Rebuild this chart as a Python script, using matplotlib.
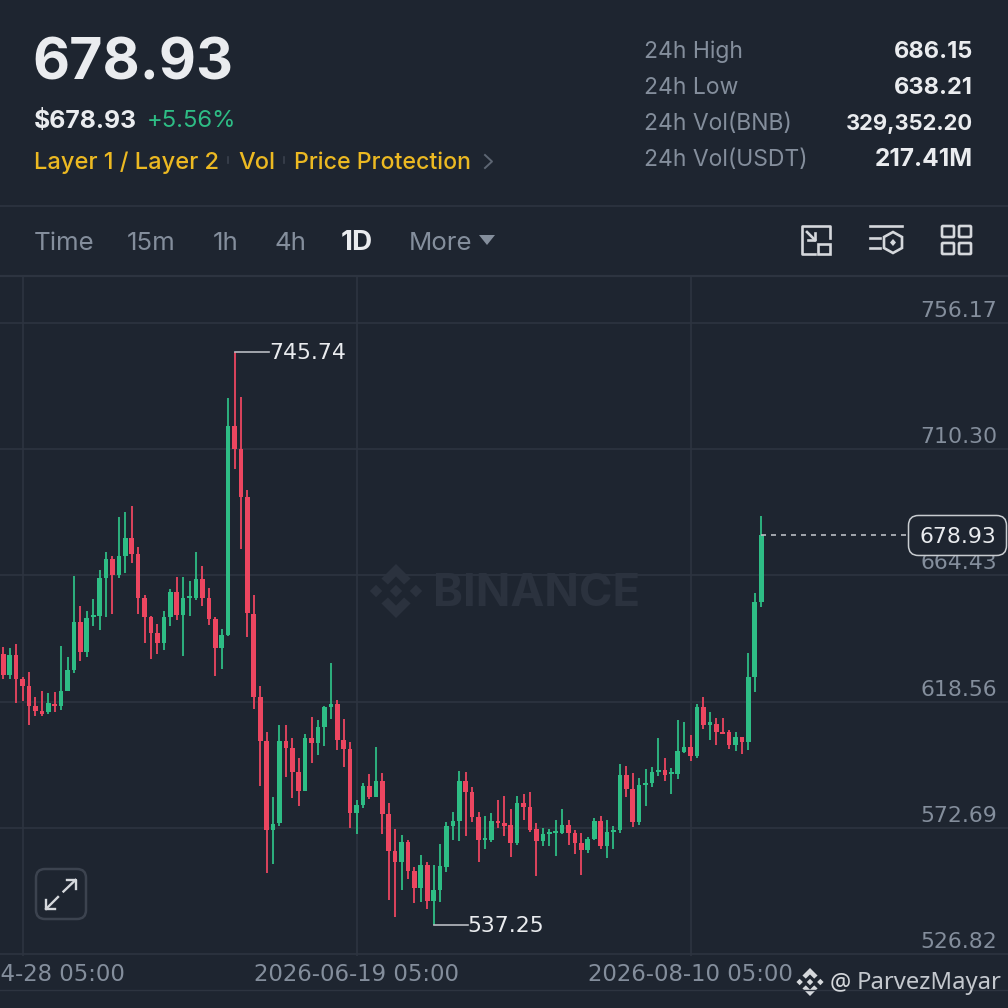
import matplotlib
matplotlib.use('Agg')
import matplotlib.pyplot as plt
from matplotlib.patches import FancyBboxPatch, Polygon, Rectangle

# daily candles (price units)
opens = [635.8, 628.2, 635.5, 626.6, 624.2, 617.1, 615.0, 614.9, 617.7, 616.9,
         622.4, 630.0, 647.4, 636.7, 649.2, 649.7, 663.4, 670.4, 664.7, 671.5,
         678.1, 672.2, 656.1, 649.3, 643.4, 639.7, 649.3, 658.4, 650.0, 656.1,
         656.3, 663.0, 656.2, 648.7, 638.0, 642.8, 718.7, 710.4, 693.0, 650.4,
         620.3, 604.1, 571.9, 574.3, 604.2, 601.6, 593.1, 586.2, 605.4, 603.6,
         609.4, 616.6, 617.6, 604.6, 601.3, 578.2, 581.0, 587.9, 583.9, 589.8,
         577.8, 564.4, 560.2, 567.4, 556.9, 550.7, 559.2, 546.2, 550.1, 558.5,
         573.4, 575.0, 589.7, 585.7, 576.5, 568.4, 568.1, 575.1, 574.3, 573.6,
         567.0, 581.6, 580.2, 572.2, 567.9, 570.4, 570.8, 570.8, 573.6, 570.8,
         567.1, 564.6, 568.6, 575.1, 565.9, 571.0, 571.9, 591.8, 586.8, 574.8,
         588.2, 589.0, 592.9, 593.7, 592.1, 592.2, 600.1, 602.0, 598.9, 616.5,
         610.0, 610.4, 607.6, 607.5, 602.7, 605.6, 603.7, 627.4, 654.6]
highs = [638.3, 637.9, 639.5, 627.4, 629.3, 620.1, 622.5, 621.5, 621.9, 638.6,
         634.6, 664.1, 653.2, 651.4, 655.7, 666.4, 672.8, 671.4, 685.5, 687.3,
         689.8, 674.6, 657.3, 649.5, 646.9, 651.5, 659.6, 664.0, 663.7, 662.3,
         672.8, 667.7, 659.7, 649.2, 644.8, 728.8, 745.74, 729.4, 695.5, 657.2,
         624.2, 607.6, 584.0, 610.2, 610.1, 605.2, 598.2, 606.9, 613.0, 612.0,
         617.0, 632.6, 619.1, 612.1, 604.0, 582.9, 589.1, 592.2, 601.9, 592.5,
         581.8, 572.4, 570.0, 568.2, 558.5, 562.8, 560.1, 559.2, 566.7, 574.8,
         578.4, 593.2, 592.8, 587.6, 578.5, 576.9, 578.0, 582.7, 584.2, 579.5,
         584.3, 584.8, 585.6, 574.4, 572.5, 572.4, 575.6, 579.4, 575.4, 571.9,
         570.9, 569.4, 576.1, 576.9, 575.4, 573.2, 595.8, 595.1, 592.5, 590.7,
         594.0, 594.7, 605.2, 597.9, 594.3, 611.8, 611.2, 606.5, 617.6, 620.2,
         614.7, 612.5, 612.5, 608.2, 607.6, 605.7, 636.3, 658.0, 686.0]
lows = [626.8, 626.8, 618.2, 618.8, 610.0, 613.2, 613.4, 613.9, 614.8, 615.4,
        622.4, 628.8, 633.4, 634.6, 646.1, 644.7, 649.3, 650.3, 663.6, 665.3,
        669.0, 650.5, 639.7, 634.1, 636.0, 637.3, 646.1, 648.1, 635.1, 649.5,
        655.6, 653.3, 646.4, 628.0, 630.5, 642.4, 703.0, 673.9, 642.1, 616.0,
        587.9, 556.1, 559.4, 573.4, 591.3, 583.6, 580.5, 586.0, 596.3, 599.0,
        602.5, 612.3, 601.1, 594.9, 572.7, 570.5, 579.9, 583.1, 583.7, 570.3,
        546.3, 540.2, 550.1, 554.2, 545.2, 545.8, 543.3, 537.25, 545.8, 556.7,
        568.4, 568.0, 569.8, 574.9, 560.1, 565.1, 567.6, 572.7, 569.8, 562.1,
        566.4, 575.5, 571.3, 555.3, 565.9, 565.9, 562.5, 570.4, 566.4, 563.3,
        555.6, 563.6, 568.4, 565.0, 561.7, 565.0, 570.8, 583.8, 573.1, 573.7,
        580.7, 587.6, 591.5, 589.7, 585.1, 590.3, 599.9, 597.1, 598.0, 608.6,
        604.6, 602.7, 606.6, 601.2, 600.7, 599.6, 601.0, 622.0, 653.1]
closes = [628.2, 635.5, 626.6, 624.2, 617.1, 615.1, 614.2, 617.9, 616.9, 622.4,
          630.0, 647.4, 636.7, 649.1, 650.0, 663.4, 670.4, 664.7, 671.4, 678.1,
          672.2, 656.1, 649.3, 643.4, 639.7, 649.3, 658.4, 650.0, 656.1, 656.8,
          663.0, 656.2, 648.7, 638.2, 642.9, 718.7, 710.4, 693.0, 650.6, 620.4,
          604.3, 571.9, 574.1, 604.1, 601.6, 593.1, 586.2, 605.4, 603.6, 609.3,
          616.6, 617.6, 604.7, 601.3, 578.2, 581.1, 587.9, 583.9, 589.8, 577.8,
          564.4, 560.2, 567.4, 556.9, 550.7, 559.2, 546.2, 550.0, 558.7, 573.4,
          575.0, 589.7, 585.6, 576.5, 568.4, 569.1, 575.1, 574.3, 573.4, 567.1,
          581.6, 580.2, 571.8, 567.9, 570.3, 571.3, 571.5, 573.6, 570.8, 567.1,
          564.6, 568.6, 575.1, 565.9, 571.0, 571.9, 591.9, 586.8, 574.8, 588.2,
          589.0, 592.9, 593.7, 592.0, 593.0, 600.5, 602.0, 598.9, 616.5, 610.1,
          611.0, 607.6, 606.8, 602.7, 605.6, 603.7, 627.4, 654.6, 678.93]

price_ticks = [756.17, 710.30, 664.43, 618.56, 572.69, 526.82]
date_idx = [3, 55, 107]
date_labels = ['2026-04-28 05:00', '2026-06-19 05:00', '2026-08-10 05:00']
intervals = ['Time', '15m', '1h', '4h', '1D', 'More']
interval_x = [34, 127, 213, 275, 341, 409]
stat_names = ['24h High', '24h Low', '24h Vol(BNB)', '24h Vol(USDT)']
stat_values = ['686.15', '638.21', '329,352.20', '217.41M']
tags = ['Layer 1 / Layer 2', 'Vol', 'Price Protection']
tag_x = [34, 238, 294]

last_price = 678.93
max_idx, max_price = 36, 745.74
min_idx, min_price = 67, 537.25

BG = '#1e2530'
GRID = '#2d3440'
GREEN = '#2ebd85'
RED = '#ec4660'
WHITE = '#eaecef'
GREY = '#848e9c'
YELLOW = '#ecb922'
ICON = '#d5d8dc'
NUM_FONT = 'DejaVu Sans'

plt.rcParams['font.family'] = ['Inter', 'DejaVu Sans']

fig = plt.figure(figsize=(10.08, 10.08), dpi=100, facecolor=BG)

# chart part: x in candle number, y in price
top_px, bot_px = 276, 955.5
ax = fig.add_axes([0, 1 - bot_px / 1008, 1, (bot_px - top_px) / 1008], facecolor=BG)
ax.set_xlim(-0.514, 156.42)
ax.set_ylim(873.58 - 0.3635 * bot_px, 873.58 - 0.3635 * top_px)
for s in ax.spines.values():
    s.set_visible(False)
ax.set_yticks(price_ticks)
ax.set_xticks(date_idx)
ax.set_yticklabels([])
ax.set_xticklabels([])
ax.tick_params(length=0)
ax.grid(True, color=GRID, lw=1.2)
ax.set_axisbelow(True)

for i in range(len(opens)):
    col = GREEN if closes[i] >= opens[i] else RED
    ax.plot([i, i], [lows[i], highs[i]], color=col, lw=1.45, solid_capstyle='butt', zorder=3, alpha=0.9)
    ax.bar(i, abs(closes[i] - opens[i]), bottom=min(opens[i], closes[i]), width=0.72, color=col, zorder=4)

# labels on the axes
for p in price_ticks:
    ax.annotate('%.2f' % p, (1, p), xycoords=('axes fraction', 'data'), xytext=(-11, 12), textcoords='offset pixels',
                ha='right', va='center', color=GREY, fontsize=15.8, family=NUM_FONT, zorder=6)
for i, lab in zip(date_idx, date_labels):
    ax.annotate(lab, (i, 0), xycoords=('data', 'axes fraction'), xytext=(0, -19), textcoords='offset pixels',
                ha='center', va='center', color=GREY, fontsize=16.4, family=NUM_FONT, annotation_clip=False)

# high / low callouts
ax.plot([max_idx, max_idx + 5.4], [max_price, max_price], color='#b8bcc2', lw=1.2, zorder=5)
ax.annotate('%.2f' % max_price, (max_idx + 5.4, max_price), xytext=(0, -1), textcoords='offset pixels',
            va='center', color=WHITE, fontsize=15.8, family=NUM_FONT)
ax.plot([min_idx, min_idx + 5.4], [min_price, min_price], color='#b8bcc2', lw=1.2, zorder=5)
ax.annotate('%.2f' % min_price, (min_idx + 5.4, min_price), xytext=(-1, -1), textcoords='offset pixels',
            va='center', color=WHITE, fontsize=15.8, family=NUM_FONT)

# last price line, the box comes later on the top layer
ax.plot([118, 142], [last_price, last_price], color='#b8bcc2', lw=1.2, ls=(0, (3, 3)), zorder=5)

# everything else in screen pixels
ui = fig.add_axes([0, 0, 1, 1], facecolor='none')
ui.set_xlim(0, 1008)
ui.set_ylim(1008, 0)
ui.axis('off')

last_y = (873.58 - last_price) / 0.3635
ui.add_patch(FancyBboxPatch((908.5, last_y - 20), 98, 40, boxstyle='round,pad=0,rounding_size=10',
                            fc=BG, ec='#c8ccd0', lw=1.1, zorder=5))
ui.text(958, last_y + 2, '%.2f' % last_price, color=WHITE, fontsize=15.8, family=NUM_FONT,
        ha='center', va='center', zorder=6)


def logo(cx, cy, r, col):
    # small diamonds and two chevrons
    d = r * 0.23
    for dx in (0, -r * 0.74, r * 0.74):
        ui.add_patch(Polygon([(cx + dx - d, cy), (cx + dx, cy - d), (cx + dx + d, cy), (cx + dx, cy + d)],
                             fc=col, ec='none'))
    for sgn in (-1, 1):
        ui.add_patch(Polygon([(cx, cy + sgn * r), (cx + r * 0.54, cy + sgn * r * 0.46), (cx + r * 0.3, cy + sgn * r * 0.24),
                              (cx, cy + sgn * r * 0.54), (cx - r * 0.3, cy + sgn * r * 0.24), (cx - r * 0.54, cy + sgn * r * 0.46)],
                             fc=col, ec='none'))


# watermark
logo(396, 591, 27, '#2b323e')
ui.text(433, 594, 'BINANCE', color='#2b323e', fontsize=32.7, weight='bold', va='center')

# header
ui.text(32, 65, '678.93', color=WHITE, fontsize=41.2, weight='bold', va='center')
ui.text(34, 121, '$678.93', color=WHITE, fontsize=17.8, weight='bold', va='center')
ui.text(147, 121, '+5.56%', color=GREEN, fontsize=17.2, va='center')
for t, x, fs in zip(tags, tag_x, [17, 17, 16.6]):
    ui.text(x, 163, t, color=YELLOW, fontsize=fs, weight='medium', va='center')
ui.plot([227.5, 227.5], [157, 163], color='#3a414d', lw=1.2)
ui.plot([284, 284], [157, 163], color='#3a414d', lw=1.2)
ui.plot([485, 492, 485], [155, 161.5, 168], color='#5d6673', lw=1.4)

for n, v, y, fs in zip(stat_names, stat_values, [52, 88, 124, 160], [17, 17, 15.8, 17.6]):
    ui.text(644, y, n, color=GREY, fontsize=16.5, va='center')
    ui.text(973, y, v, color=WHITE, fontsize=fs, weight='bold', va='center', ha='right')

# interval bar
ui.plot([0, 1008], [205.5, 205.5], color=GRID, lw=1.2)
ui.plot([0, 1008], [275.5, 275.5], color=GRID, lw=1.6)
for t, x in zip(intervals, interval_x):
    act = t == '1D'
    ui.text(x, 243, t, color=WHITE if act else GREY, fontsize=20 if act else 18.6,
            weight='bold' if act else 'normal', va='center')
ui.add_patch(Polygon([(479, 235), (495, 235), (487, 245)], fc=GREY, ec='none'))

# toolbar icons
ic = dict(fc='none', ec=ICON, lw=1.9)
ui.plot([815, 802, 802, 830, 830], [254, 254, 226, 226, 238], color=ICON, lw=1.9, solid_joinstyle='round')
ui.add_patch(Rectangle((818, 244), 12, 10, **ic))
ui.plot([807, 815], [232, 240], color=ICON, lw=1.9)
ui.plot([808, 815, 815], [240, 240, 233], color=ICON, lw=1.9)
ui.plot([870, 902], [226, 226], color=ICON, lw=1.9)
ui.plot([870, 880], [238, 238], color=ICON, lw=1.9)
ui.plot([870, 880], [248, 248], color=ICON, lw=1.9)
ui.add_patch(Polygon([(893, 232), (902, 237), (902, 248), (893, 253), (884, 248), (884, 237)], **ic))
ui.add_patch(Polygon([(893, 239), (896, 242.5), (893, 246), (890, 242.5)], fc=ICON, ec='none'))
for x, y in [(942, 226), (959, 226), (942, 243), (959, 243)]:
    ui.add_patch(FancyBboxPatch((x, y), 12, 11, boxstyle='round,pad=0,rounding_size=1', **ic))

# expand button
ui.add_patch(FancyBboxPatch((36, 869), 50, 50, boxstyle='round,pad=0,rounding_size=9', fc=BG, ec='#3c434f', lw=1.8, zorder=5))
ui.plot([46, 58], [909, 897], color=ICON, lw=1.7, zorder=6)
ui.plot([63.5, 75.5], [891.5, 880], color=ICON, lw=1.7, zorder=6)
ui.plot([46, 46, 55], [899.5, 909, 909], color=ICON, lw=1.7, zorder=6)
ui.plot([66.5, 75.5, 75.5], [880, 880, 889], color=ICON, lw=1.7, zorder=6)

# line under the dates
ui.plot([0, 1008], [990, 990], color=GRID, lw=1.0)

# signature
logo(810, 982, 14, ICON)
ui.text(830, 983, '@', color=ICON, fontsize=17, va='center', family='Noto Sans')
ui.text(857, 983, 'ParvezMayar', color='#c4c8ce', fontsize=17.2, va='center', family='Noto Sans')

fig.savefig('out.png', dpi=100, facecolor=BG)
